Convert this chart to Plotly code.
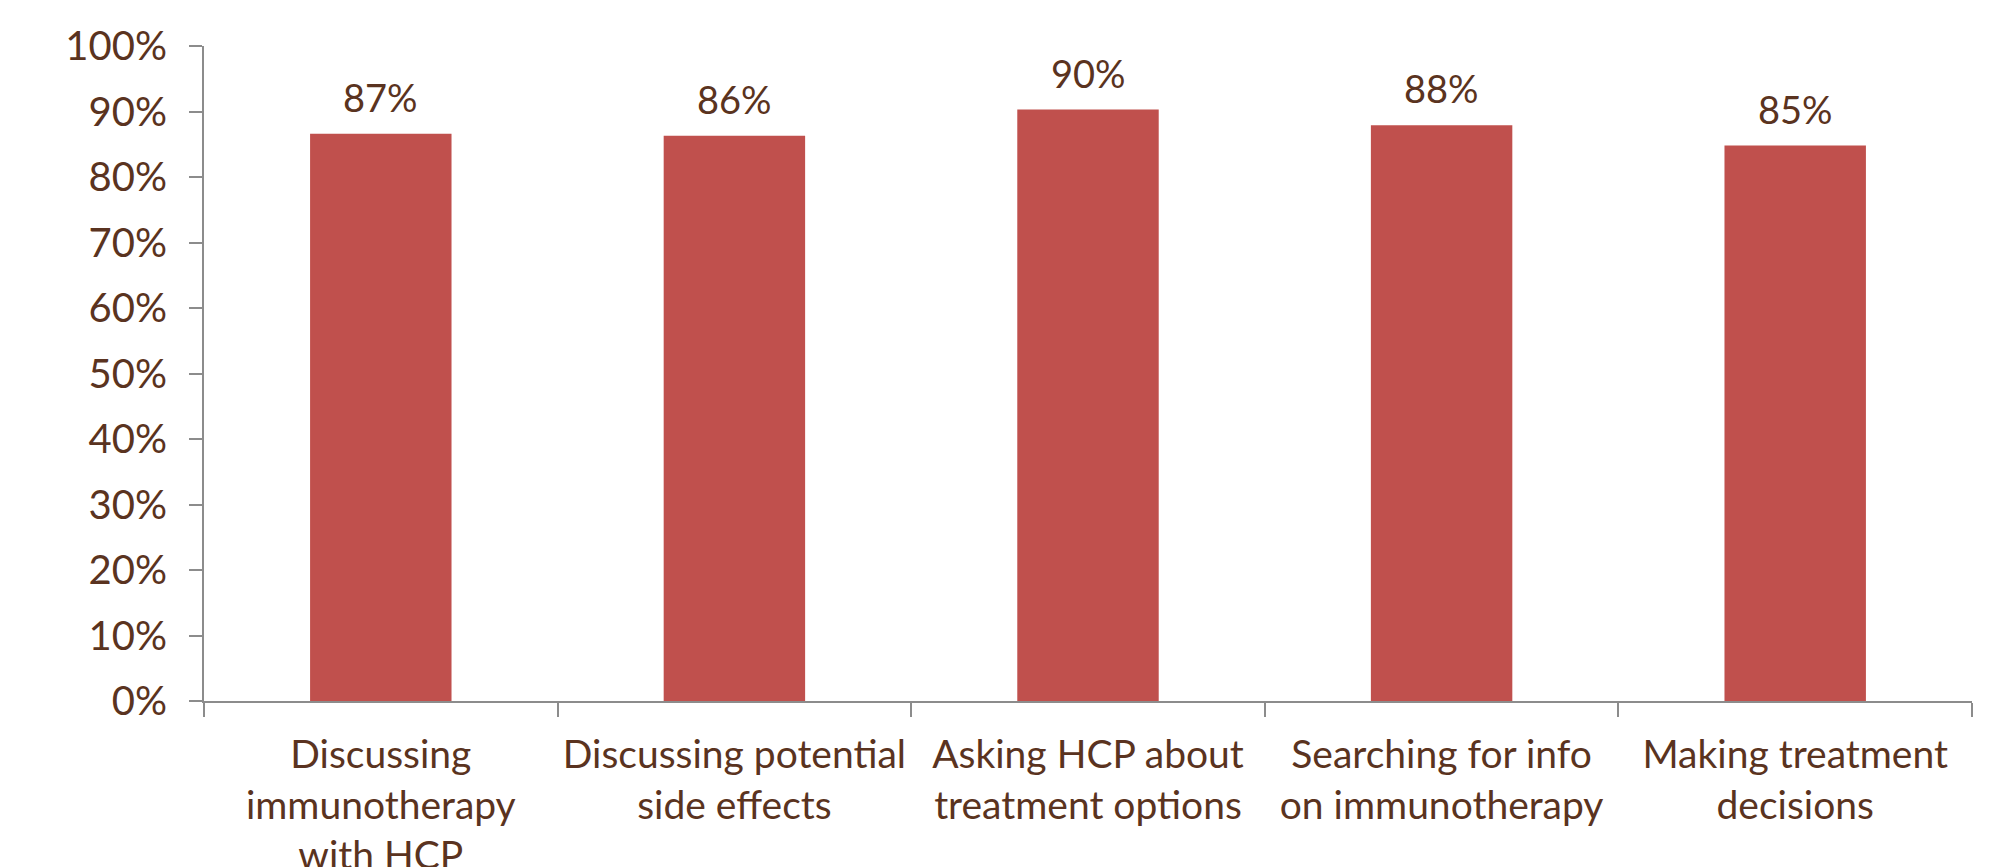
import plotly.graph_objects as go

categories = [
    "Discussing<br>immunotherapy<br>with HCP",
    "Discussing potential<br>side effects",
    "Asking HCP about<br>treatment options",
    "Searching for info<br>on immunotherapy",
    "Making treatment<br>decisions",
]
values = [0.866, 0.863, 0.903, 0.879, 0.848]
labels = ["87%", "86%", "90%", "88%", "85%"]
y_ticks = [i / 10 for i in range(11)]

TEXT = "#5a3320"
FONT = "Lato"

fig = go.Figure(
    go.Bar(
        x=categories,
        y=values,
        marker=dict(color="#c0504d", line=dict(width=0)),
        hoverinfo="skip",
    )
)

for c, v, t in zip(categories, values, labels):
    fig.add_annotation(
        x=c, y=v, text=t, showarrow=False,
        yanchor="bottom", yshift=12,
        font=dict(family=FONT, size=38, color=TEXT),
    )

fig.update_layout(
    width=1998,
    height=867,
    margin=dict(l=196, r=34, t=38, b=174, autoexpand=False),
    paper_bgcolor="white",
    plot_bgcolor="white",
    bargap=0.6,
    showlegend=False,
    font=dict(family=FONT, size=38, color=TEXT),
)

fig.update_xaxes(
    showline=True,
    linecolor="#8c8c8c",
    linewidth=2,
    ticks="outside",
    tickson="boundaries",
    ticklen=14,
    tickwidth=2,
    tickcolor="#8c8c8c",
    showgrid=False,
    automargin=False,
    tickangle=0,
    ticklabelstandoff=18,
    tickfont=dict(family=FONT, size=39, color=TEXT),
)

fig.update_yaxes(
    range=[0, 1],
    tickvals=y_ticks,
    tickformat=".0%",
    showline=True,
    linecolor="#8c8c8c",
    linewidth=2,
    ticks="outside",
    ticklen=13,
    tickwidth=2,
    tickcolor="#8c8c8c",
    showgrid=False,
    zeroline=False,
    automargin=False,
    ticklabelstandoff=14,
    tickfont=dict(family=FONT, size=40, color=TEXT),
)

fig.write_html("out.html")
